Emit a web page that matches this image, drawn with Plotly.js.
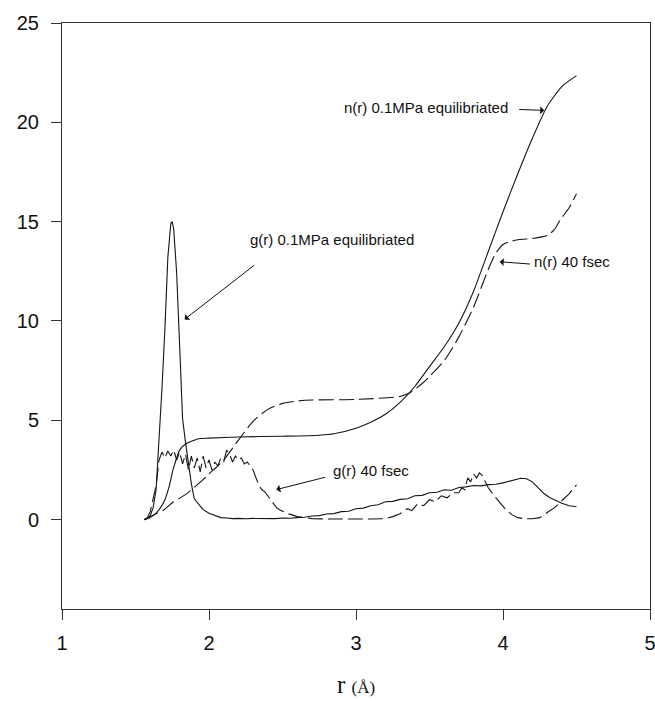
<!DOCTYPE html>
<html>
<head>
<meta charset="utf-8">
<script src="https://cdn.plot.ly/plotly-3.0.1.min.js"></script>
<style>html,body{margin:0;padding:0;background:#fff;}#chart{width:655px;height:701px;}</style>
</head>
<body>
<div id="chart"></div>
<script>
// g(r) 0.1MPa equilibriated (solid)
const gEqR = [1.56,1.58,1.60,1.62,1.64,1.66,1.68,1.70,1.72,1.74,1.75,1.76,1.78,1.80,1.82,1.84,1.86,1.88,1.90,1.93,1.96,2.00,2.04,2.08,2.12,2.16,2.20,2.25,2.30,2.35,2.40,2.45,2.50,2.55,2.60,2.65,2.70,2.75,2.80,2.85,2.90,2.95,3.00,3.05,3.10,3.15,3.20,3.25,3.30,3.35,3.40,3.45,3.50,3.55,3.60,3.65,3.70,3.75,3.80,3.85,3.90,3.95,4.00,4.04,4.08,4.12,4.16,4.20,4.24,4.28,4.32,4.36,4.40,4.45,4.50];
const gEqV = [0,0.05,0.2,0.6,1.5,3.8,6.6,9.6,13.2,14.9,15.0,14.6,12.4,8.8,5.1,3.9,2.8,1.8,1.05,0.75,0.5,0.32,0.2,0.1,0.08,0.05,0.06,0.04,0.06,0.05,0.07,0.05,0.08,0.07,0.1,0.12,0.18,0.2,0.28,0.3,0.4,0.42,0.55,0.58,0.7,0.75,0.9,0.92,1.02,1.05,1.2,1.22,1.35,1.38,1.5,1.48,1.62,1.65,1.72,1.7,1.76,1.78,1.85,1.92,2.0,2.08,2.06,1.9,1.6,1.3,1.1,0.95,0.82,0.7,0.65];

// g(r) 40 fsec (dashed)
const g40R = [1.56,1.58,1.60,1.62,1.64,1.66,1.68,1.70,1.72,1.74,1.76,1.78,1.80,1.82,1.84,1.86,1.88,1.90,1.92,1.94,1.96,1.98,2.00,2.02,2.04,2.06,2.08,2.10,2.12,2.14,2.16,2.18,2.20,2.22,2.24,2.26,2.28,2.30,2.32,2.34,2.36,2.38,2.40,2.42,2.44,2.46,2.48,2.52,2.56,2.60,2.65,2.70,2.80,2.90,3.00,3.10,3.20,3.25,3.30,3.35,3.38,3.42,3.46,3.50,3.54,3.58,3.62,3.66,3.70,3.72,3.74,3.76,3.78,3.80,3.82,3.84,3.86,3.88,3.90,3.94,3.98,4.02,4.06,4.10,4.15,4.20,4.25,4.30,4.35,4.40,4.45,4.50];
const g40V = [0,0.1,0.4,1.0,1.7,3.0,3.4,3.1,3.45,3.2,3.5,3.0,3.4,2.8,3.3,2.5,3.2,2.6,3.1,2.4,3.2,2.6,3.0,2.5,2.9,2.7,3.1,2.9,3.5,3.3,2.9,3.2,3.0,3.1,2.8,2.9,2.7,2.5,2.1,1.7,1.5,1.4,1.2,1.0,0.85,0.6,0.5,0.35,0.25,0.15,0.1,0.05,0.03,0.02,0.02,0.03,0.05,0.15,0.3,0.55,0.45,0.8,0.7,1.0,0.9,1.2,1.1,1.35,1.35,1.6,1.5,2.1,1.9,2.3,2.1,2.35,2.2,1.9,1.6,1.2,0.85,0.5,0.25,0.1,0.04,0.04,0.1,0.35,0.6,0.95,1.3,1.75];

// n(r) 0.1MPa equilibriated (solid)
const nEqR = [1.56,1.60,1.65,1.70,1.73,1.755,1.78,1.80,1.845,1.90,1.94,2.00,2.20,2.50,2.75,2.85,3.00,3.10,3.20,3.30,3.40,3.50,3.60,3.70,3.80,3.90,4.00,4.10,4.20,4.30,4.40,4.50];
const nEqV = [0,0.1,0.4,1.0,1.7,2.5,3.1,3.5,3.83,4.0,4.08,4.1,4.16,4.2,4.25,4.32,4.6,4.9,5.3,5.9,6.7,7.7,8.7,9.9,11.5,13.5,15.5,17.4,19.2,20.8,21.8,22.35];

// n(r) 40 fsec (dashed)
const n40R = [1.56,1.60,1.69,1.75,1.85,1.98,2.00,2.10,2.20,2.30,2.40,2.50,2.60,2.70,3.00,3.30,3.37,3.45,3.50,3.60,3.70,3.80,3.90,3.95,4.00,4.05,4.11,4.20,4.30,4.35,4.39,4.45,4.50];
const n40V = [0,0.15,0.47,0.85,1.31,2.15,2.3,3.0,4.0,4.95,5.55,5.85,5.97,6.02,6.05,6.2,6.4,6.85,7.2,8.0,9.2,10.7,12.6,13.4,13.85,14.0,14.1,14.15,14.3,14.6,15.1,15.7,16.4];

const xTicks = [1,2,3,4,5];
const yTicks = [0,5,10,15,20,25];

const lineCol = '#151515';
const solid = {color: lineCol, width: 1.1};
const dashed = {color: lineCol, width: 1.1, dash: '15px,5px'};

const traces = [
  {x: gEqR, y: gEqV, mode: 'lines', line: solid, name: 'g(r) 0.1MPa'},
  {x: g40R, y: g40V, mode: 'lines', line: dashed, name: 'g(r) 40 fsec'},
  {x: nEqR, y: nEqV, mode: 'lines', line: Object.assign({shape: 'spline', smoothing: 0.6}, solid), name: 'n(r) 0.1MPa'},
  {x: n40R, y: n40V, mode: 'lines', line: Object.assign({shape: 'spline', smoothing: 0.6}, dashed), name: 'n(r) 40 fsec'}
];

const tf = {family: 'Liberation Sans, Arial, sans-serif', size: 15, color: '#111'};
function arrow(x, y, ax, ay) {
  return {x: x, y: y, ax: ax, ay: ay, xref: 'x', yref: 'y', axref: 'x', ayref: 'y',
          text: '', showarrow: true, arrowhead: 1, arrowsize: 1.3, arrowwidth: 1, arrowcolor: '#111'};
}
function label(x, y, text, xanchor) {
  return {x: x, y: y, xref: 'x', yref: 'y', text: text, showarrow: false, xanchor: xanchor, yanchor: 'middle', font: tf};
}

const layout = {
  width: 655, height: 701,
  margin: {l: 62, r: 5, t: 23, b: 92},
  paper_bgcolor: '#fff', plot_bgcolor: '#fff',
  showlegend: false,
  xaxis: {
    range: [1, 5], tickvals: xTicks, ticktext: xTicks.map(String),
    showgrid: false, zeroline: false, showline: true, mirror: true,
    linecolor: '#333', linewidth: 1, ticks: 'outside', ticklen: 10, tickcolor: '#333',
    tickfont: {family: 'Liberation Sans, Arial, sans-serif', size: 20, color: '#111'},
    ticklabelstandoff: 6, ticklabeloverflow: 'allow',
    title: {text: 'r <span style="font-size:17px">(Å)</span>', font: {family: 'Liberation Serif, Times New Roman, serif', size: 25, color: '#111'}, standoff: 22}
  },
  yaxis: {
    range: [-4.5, 25], tickvals: yTicks, ticktext: yTicks.map(String),
    showgrid: false, zeroline: false, showline: true, mirror: true,
    linecolor: '#333', linewidth: 1, ticks: 'outside', ticklen: 10, tickcolor: '#333',
    tickfont: {family: 'Liberation Sans, Arial, sans-serif', size: 20, color: '#111'},
    ticklabelstandoff: 8, ticklabeloverflow: 'allow'
  },
  annotations: [
    arrow(1.834, 10.08, 2.317, 12.86),
    label(2.263, 14.12, 'g(r) 0.1MPa equilibriated', 'left'),
    arrow(4.28, 20.6, 4.10, 20.65),
    label(4.045, 20.75, 'n(r) 0.1MPa equilibriated', 'right'),
    arrow(3.978, 12.98, 4.194, 12.86),
    label(4.196, 12.97, 'n(r) 40 fsec', 'left'),
    arrow(2.458, 1.51, 2.80, 2.15),
    label(2.833, 2.48, 'g(r) 40 fsec', 'left')
  ]
};

Plotly.newPlot('chart', traces, layout, {staticPlot: true, displayModeBar: false});
</script>
</body>
</html>
